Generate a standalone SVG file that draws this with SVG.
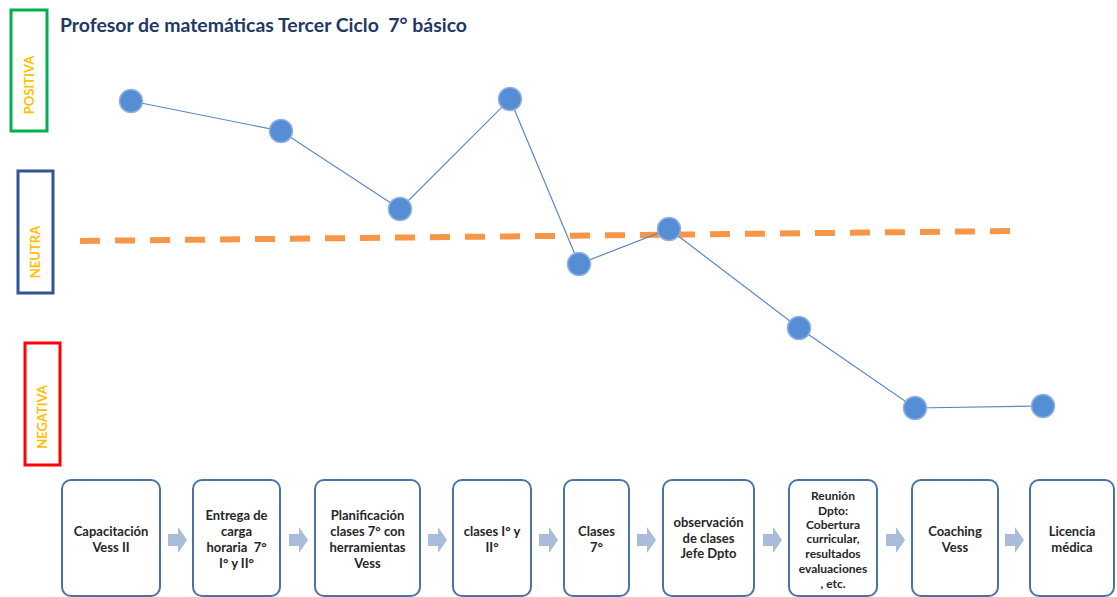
<svg xmlns="http://www.w3.org/2000/svg" width="1117" height="597" viewBox="0 0 1117 597">
<defs>
<style>
.title{font-family:Lato,"Liberation Sans",sans-serif;font-weight:bold;font-size:19px;fill:#1f3864;white-space:pre}
.vlab{font-family:Lato,"Liberation Sans",sans-serif;font-weight:bold;font-size:13px;fill:#ffc000;text-anchor:middle;dominant-baseline:central}
.box{fill:#ffffff;stroke:#4a74a8;stroke-width:2}
.bt{font-family:Lato,"Liberation Sans",sans-serif;font-weight:bold;font-size:13px;fill:#262626;text-anchor:middle;dominant-baseline:central}
.bts{font-family:Lato,"Liberation Sans",sans-serif;font-weight:bold;font-size:12px;fill:#262626;text-anchor:middle;dominant-baseline:central}
.arr{fill:#a9bcd9}
.dot{fill:#558ed5;stroke:#8fb2e0;stroke-width:1.5}
.conn{fill:none;stroke:#5a88c4;stroke-width:1.2}
.neutral{fill:none;stroke:#f79646;stroke-width:6;stroke-dasharray:20 15}
</style>
</defs>
<text class="title" x="60" y="32" xml:space="preserve" textLength="407" lengthAdjust="spacingAndGlyphs">Profesor de matemáticas Tercer Ciclo  7° básico</text>
<g id="positiva">
<rect x="11" y="10" width="36" height="121" fill="none" stroke="#00b050" stroke-width="3"/>
<text class="vlab" transform="translate(29,85) rotate(-90)">POSITIVA</text>
</g>
<g id="neutra">
<rect x="18" y="171" width="35" height="122" fill="none" stroke="#2f5597" stroke-width="3"/>
<text class="vlab" transform="translate(35,252) rotate(-90)">NEUTRA</text>
</g>
<g id="negativa">
<rect x="25" y="343" width="35" height="122" fill="none" stroke="#ff0000" stroke-width="3"/>
<text class="vlab" transform="translate(42,417) rotate(-90)">NEGATIVA</text>
</g>
<g id="neutral-line">
<line class="neutral" x1="80" y1="241" x2="1010" y2="231"/>
</g>
<g id="connectors">
<polyline class="conn" points="131,101 281,131 400,209 510,99 579,264 669,229 799,328 915,408 1043,406"/>
<path class="arr" d="M168,534 h10 v-7 l9,13 l-9,13 v-7 h-10 z"/>
<path class="arr" d="M289,534 h10 v-7 l9,13 l-9,13 v-7 h-10 z"/>
<path class="arr" d="M428,534 h10 v-7 l9,13 l-9,13 v-7 h-10 z"/>
<path class="arr" d="M539,534 h10 v-7 l9,13 l-9,13 v-7 h-10 z"/>
<path class="arr" d="M637,534 h10 v-7 l9,13 l-9,13 v-7 h-10 z"/>
<path class="arr" d="M763,534 h10 v-7 l9,13 l-9,13 v-7 h-10 z"/>
<path class="arr" d="M886,534 h10 v-7 l9,13 l-9,13 v-7 h-10 z"/>
<path class="arr" d="M1005,534 h10 v-7 l9,13 l-9,13 v-7 h-10 z"/>
</g>
<g id="points">
<circle class="dot" cx="131" cy="101" r="11.5"/>
<circle class="dot" cx="281" cy="131" r="11.5"/>
<circle class="dot" cx="400" cy="209" r="11.5"/>
<circle class="dot" cx="510" cy="99" r="11.5"/>
<circle class="dot" cx="579" cy="264" r="11.5"/>
<circle class="dot" cx="669" cy="229" r="11.5"/>
<circle class="dot" cx="799" cy="328" r="11.5"/>
<circle class="dot" cx="915" cy="408" r="11.5"/>
<circle class="dot" cx="1043" cy="406" r="11.5"/>
</g>
<g id="box1">
<rect class="box" x="62" y="480" width="98" height="116" rx="9"/>
<text class="bt" x="111" y="531">Capacitación</text>
<text class="bt" x="111" y="547">Vess II</text>
</g>
<g id="box2">
<rect class="box" x="193" y="480" width="87" height="116" rx="9"/>
<text class="bt" x="236.5" y="515">Entrega de</text>
<text class="bt" x="236.5" y="531">carga</text>
<text class="bt" x="236.5" y="547" xml:space="preserve">horaria  7°</text>
<text class="bt" x="236.5" y="563">I° y II°</text>
</g>
<g id="box3">
<rect class="box" x="315" y="480" width="105" height="116" rx="9"/>
<text class="bt" x="367.5" y="515">Planificación</text>
<text class="bt" x="367.5" y="531">clases 7° con</text>
<text class="bt" x="367.5" y="547">herramientas</text>
<text class="bt" x="367.5" y="563">Vess</text>
</g>
<g id="box4">
<rect class="box" x="453" y="480" width="78" height="116" rx="9"/>
<text class="bt" x="492" y="531">clases I° y</text>
<text class="bt" x="492" y="547">II°</text>
</g>
<g id="box5">
<rect class="box" x="564" y="480" width="65" height="116" rx="9"/>
<text class="bt" x="596.5" y="531">Clases</text>
<text class="bt" x="596.5" y="547">7°</text>
</g>
<g id="box6">
<rect class="box" x="663" y="480" width="91" height="116" rx="9"/>
<text class="bt" x="708.5" y="522">observación</text>
<text class="bt" x="708.5" y="538">de clases</text>
<text class="bt" x="708.5" y="553">Jefe Dpto</text>
</g>
<g id="box7">
<rect class="box" x="789" y="480" width="88" height="116" rx="9"/>
<text class="bts" x="833" y="495">Reunión</text>
<text class="bts" x="833" y="510">Dpto:</text>
<text class="bts" x="833" y="524">Cobertura</text>
<text class="bts" x="833" y="538">curricular,</text>
<text class="bts" x="833" y="553">resultados</text>
<text class="bts" x="833" y="568">evaluaciones</text>
<text class="bts" x="833" y="583">, etc.</text>
</g>
<g id="box8">
<rect class="box" x="912" y="480" width="86" height="116" rx="9"/>
<text class="bt" x="955" y="531">Coaching</text>
<text class="bt" x="955" y="547">Vess</text>
</g>
<g id="box9">
<rect class="box" x="1030" y="480" width="84" height="116" rx="9"/>
<text class="bt" x="1072" y="531">Licencia</text>
<text class="bt" x="1072" y="547">médica</text>
</g>
</svg>
